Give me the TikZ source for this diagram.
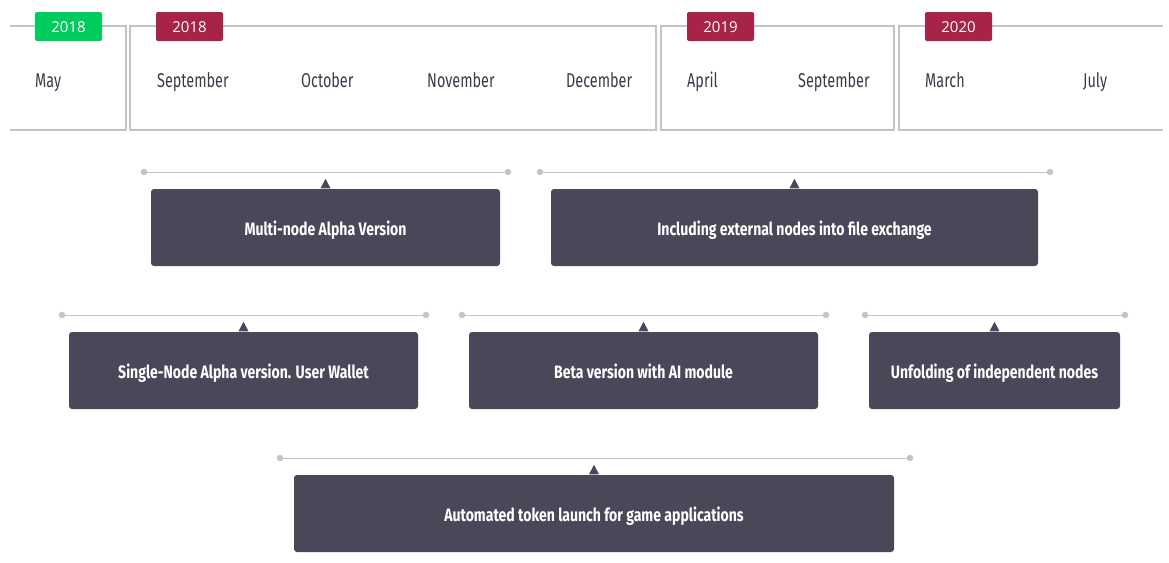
\documentclass[tikz,border=0pt]{standalone}
\usepackage{fontspec}
\setmainfont{Open Sans}
\newfontfamily\osw[FakeStretch=0.78]{Fira Sans}
\newfontfamily\oswm[FakeStretch=0.72]{Fira Sans}
\definecolor{frame}{HTML}{C4C4C4}
\definecolor{green}{HTML}{00CC5E}
\definecolor{wine}{HTML}{A72347}
\definecolor{card}{HTML}{484859}
\definecolor{month}{HTML}{3A3A48}
\tikzset{
  badge/.style={fill=#1, text=white, rounded corners=2pt, minimum width=67pt, minimum height=29pt, inner sep=0pt, text height=11pt, text depth=0pt, font=\fontsize{15}{15}\selectfont},
  monthlbl/.style={anchor=base west, text=month, inner sep=0pt, font=\oswm\fontsize{20}{20}\selectfont},
  cardbox/.style={fill=card, text=white, rounded corners=3pt, minimum height=77pt, inner sep=0pt, text height=16pt, text depth=0pt, font=\osw\bfseries\fontsize{18}{18}\selectfont},
  rail/.style={draw=frame, line width=1pt},
  dot/.style={circle, fill=frame, inner sep=0pt, minimum size=6.5pt},
  framel/.style={draw=frame, line width=1.2pt}
}
\begin{document}
\begin{tikzpicture}[x=1pt,y=-1pt]
\useasboundingbox (0,0) rectangle (1169,562);
% frame boxes
\draw[framel] (10,26) -- (126,26) -- (126,130) -- (10,130);
\draw[framel] (130,26) rectangle (656,130);
\draw[framel] (661,26) rectangle (894,130);
\draw[framel] (1163,26) -- (899,26) -- (899,130) -- (1163,130);
% badges
\node[badge=green] (y1) at (68.5,26.5) {2018};
\node[badge=wine] (y2) at (189.5,26.5) {2018};
\node[badge=wine] (y3) at (720.5,26.5) {2019};
\node[badge=wine] (y4) at (958.5,26.5) {2020};
% months
\node[monthlbl] (m1) at (35,87) {May};
\node[monthlbl] (m2) at (157,87) {September};
\node[monthlbl] (m3) at (301,87) {October};
\node[monthlbl] (m4) at (427,87) {November};
\node[monthlbl] (m5) at (566,87) {December};
\node[monthlbl] (m6) at (687,87) {April};
\node[monthlbl] (m7) at (798,87) {September};
\node[monthlbl] (m8) at (925,87) {March};
\node[monthlbl] (m9) at (1083,87) {July};
% cards
\node[cardbox, minimum width=349pt] (c1) at (325.5,227.5) {Multi-node Alpha Version};
\node[cardbox, minimum width=487pt] (c2) at (794.5,227.5) {Including external nodes into file exchange};
\node[cardbox, minimum width=349pt] (c3) at (243.5,370.5) {Single-Node Alpha version. User Wallet};
\node[cardbox, minimum width=349pt] (c4) at (643.5,370.5) {Beta version with AI module};
\node[cardbox, minimum width=251pt] (c5) at (994.5,370.5) {Unfolding of independent nodes};
\node[cardbox, minimum width=600pt] (c6) at (594,513.5) {Automated token launch for game applications};
% pointers
\foreach \c in {c1,c2,c3,c4,c5,c6}{
  \fill[card] ([xshift=-5pt,yshift=0.5pt]\c.north) -- ([yshift=10pt]\c.north) -- ([xshift=5pt,yshift=0.5pt]\c.north) -- cycle;
}
% rails
\coordinate (r1a) at (144,172); \coordinate (r1b) at (508,172);
\coordinate (r2a) at (540,172); \coordinate (r2b) at (1050,172);
\coordinate (r3a) at (62,315);  \coordinate (r3b) at (426,315);
\coordinate (r4a) at (462,315); \coordinate (r4b) at (826,315);
\coordinate (r5a) at (865,315); \coordinate (r5b) at (1125,315);
\coordinate (r6a) at (280,458); \coordinate (r6b) at (910,458);
\foreach \a/\b in {r1a/r1b,r2a/r2b,r3a/r3b,r4a/r4b,r5a/r5b,r6a/r6b}{
  \draw[rail] (\a) -- (\b);
  \node[dot] at (\a) {};
  \node[dot] at (\b) {};
}
\end{tikzpicture}
\end{document}
